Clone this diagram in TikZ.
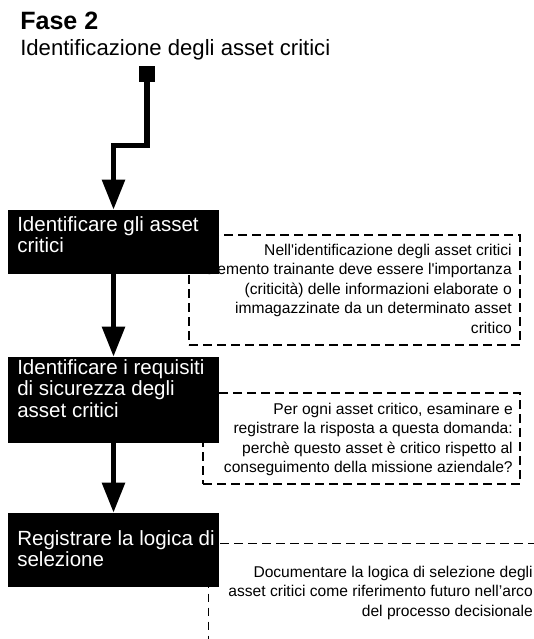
\documentclass[tikz,border=0pt]{standalone}
\usepackage{fontspec}
\setmainfont{Liberation Sans}
\usetikzlibrary{arrows.meta}
\begin{document}
\begin{tikzpicture}[x=0.75pt,y=-0.75pt,
  blackbox/.style={fill=black, draw=none, inner sep=0pt, minimum width=158.25pt},
  % multi-line nodes: the base anchor sits on the last line
  boxtext/.style={text=white, font=\fontsize{15.4}{16.2}\selectfont, align=left, inner sep=0pt, anchor=base west},
  notebox/.style={draw=black, line width=1.1pt, dash pattern=on 6.5pt off 4pt, inner sep=0pt},
  notetext/.style={font=\fontsize{11.7}{14.6}\selectfont, align=right, inner sep=0pt, anchor=base east},
  flow/.style={line width=4.1pt, -{Triangle[length=22.5pt,width=16.5pt]}},
]
\fill[white] (0,0) rectangle (534,639);
\useasboundingbox (0,0) rectangle (534,639);
\clip (0,0) rectangle (534,639);

% heading
\node[anchor=base west, inner sep=0pt, font=\fontsize{18.8}{22}\bfseries\selectfont] (phase) at (20,29) {Fase 2};
\node[anchor=base west, inner sep=0pt, font=\fontsize{16.6}{20}\selectfont] (phasename) at (20,55) {Identificazione degli asset critici};

% dashed notes (drawn first, the black steps overlap them)
\node[notebox, minimum width=248.25pt, minimum height=82.5pt] (n1) at (354.5,290) {};
\node[notebox, minimum width=237.75pt, minimum height=68.25pt] (n2) at (361.5,438.5) {};
\node[notebox, anchor=north west, minimum width=300pt, minimum height=150pt] (n3) at (208,543) {};

\node[notetext] (n1text) at (512,333) {Nell\textquotesingle identificazione degli asset critici\\l\textquotesingle elemento trainante deve essere l\textquotesingle importanza\\(criticità) delle informazioni elaborate o\\immagazzinate da un determinato asset\\critico};
\node[notetext] (n2text) at (513,472.5) {Per ogni asset critico, esaminare e\\registrare la risposta a questa domanda:\\perchè questo asset è critico rispetto al\\conseguimento della missione aziendale?};
\node[notetext] (n3text) at (533,616) {Documentare la logica di selezione degli\\asset critici come riferimento futuro nell’arco\\del processo decisionale};

% process steps
\node[blackbox, minimum height=48pt] (b1) at (113.5,242) {};
\node[blackbox, minimum height=64.5pt] (b2) at (113.5,400) {};
\node[blackbox, minimum height=55.5pt] (b3) at (113.5,550) {};

\node[boxtext] (b1text) at (17,252.6) {Identificare gli asset\\critici};
\node[boxtext] (b2text) at (17,417.2) {Identificare i requisiti\\di sicurezza degli\\asset critici};
\node[boxtext] (b3text) at (17,566.6) {Registrare la logica di\\selezione};

% start marker and flow
\node[fill=black, inner sep=0pt, minimum size=12pt] (start) at (147,74) {};
\draw[flow] (start.south) -- ++(0,63) -| (b1.north);
\draw[flow] (b1.south) -- (b2.north);
\draw[flow] (b2.south) -- (b3.north);
\end{tikzpicture}
\end{document}
